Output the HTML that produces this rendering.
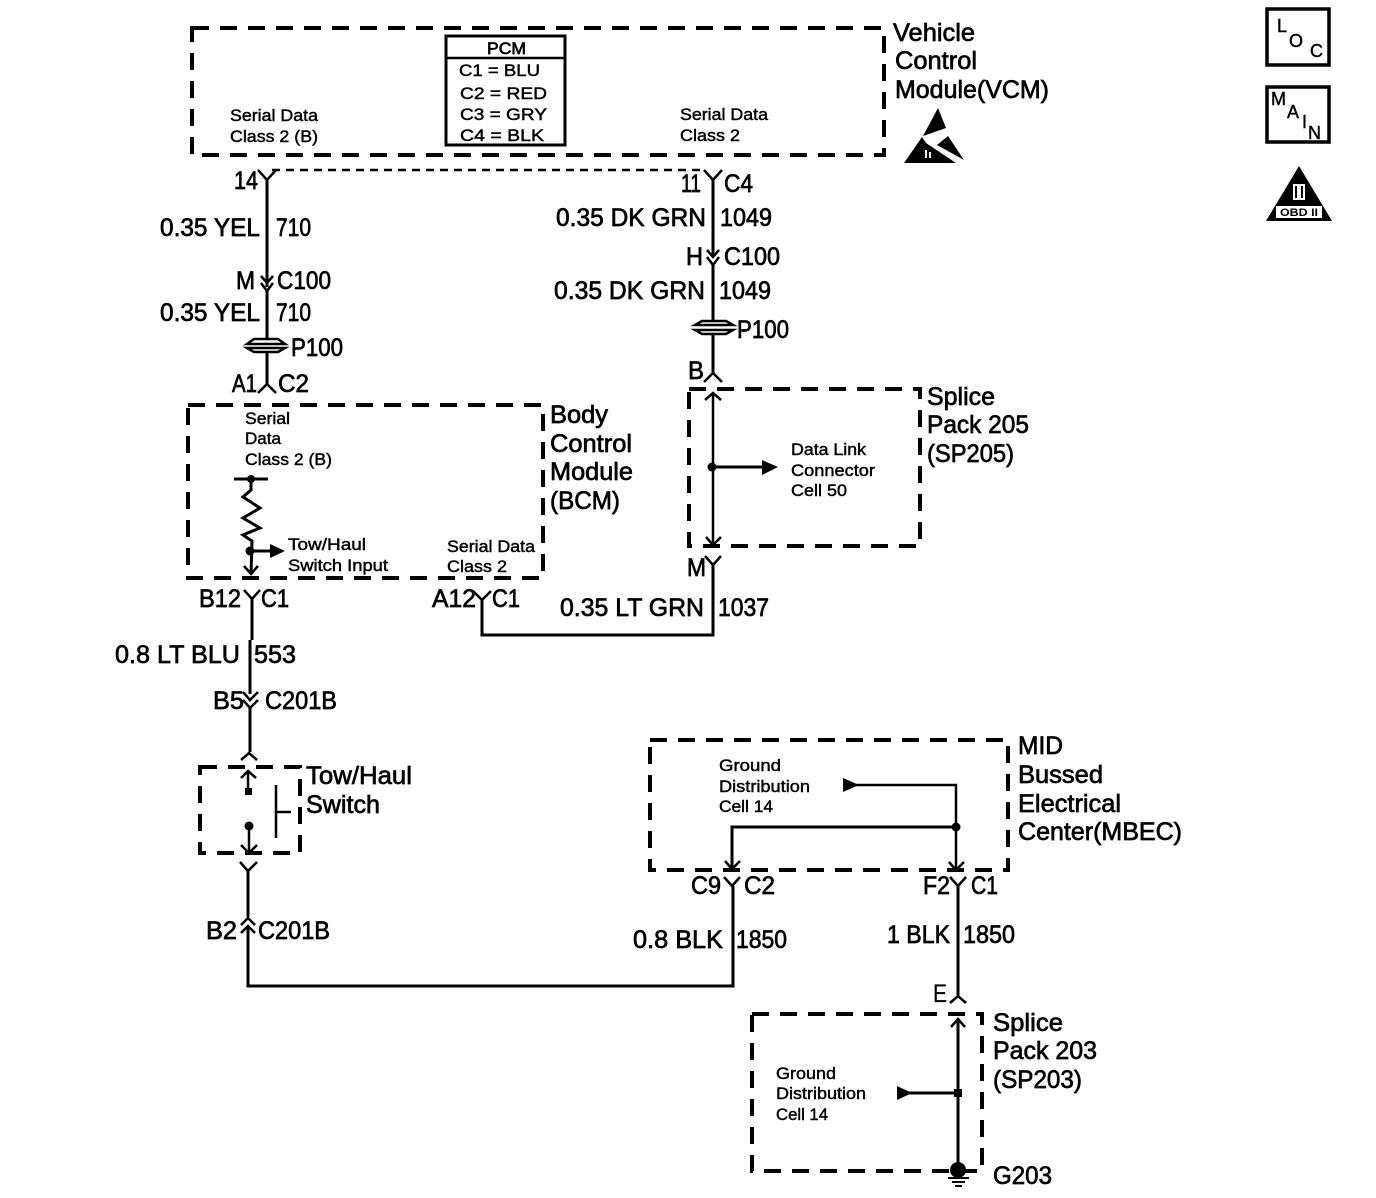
<!DOCTYPE html>
<html><head><meta charset="utf-8"><style>
html,body{margin:0;padding:0;background:#fff}
svg{display:block}
text{font-family:"Liberation Sans",sans-serif;fill:#000;stroke:#000}
.b{font-size:25px;stroke-width:.7}
.s{font-size:17px;stroke-width:.45}
.w{fill:none;stroke:#000;stroke-width:3}
.c{fill:none;stroke:#000;stroke-width:2.5}
.d{fill:none;stroke:#000;stroke-width:4;stroke-dasharray:17 11}
</style></head><body>
<svg width="1376" height="1198" viewBox="0 0 1376 1198" xmlns="http://www.w3.org/2000/svg">
<rect width="1376" height="1198" fill="#fff"/>
<!-- dashed boxes -->
<rect class="d" x="192" y="28" width="692" height="127"/>
<rect class="d" x="188" y="405" width="355" height="173"/>
<rect class="d" x="689" y="389" width="231" height="157"/>
<rect class="d" x="200" y="767" width="100" height="86"/>
<rect class="d" x="650" y="740" width="358" height="130"/>
<rect class="d" x="752" y="1014" width="230" height="157"/>
<line x1="272" y1="170" x2="706" y2="170" stroke="#000" stroke-width="2.5" stroke-dasharray="8 6"/>
<!-- PCM -->
<rect x="446" y="36" width="119" height="109" fill="#fff" stroke="#000" stroke-width="3"/>
<line x1="446" y1="58" x2="565" y2="58" stroke="#000" stroke-width="2.5"/>
<text class="s" x="487" y="54" textLength="39" lengthAdjust="spacingAndGlyphs" style="stroke-width:.7">PCM</text>
<text class="s" x="459" y="76" textLength="81" lengthAdjust="spacingAndGlyphs">C1 = BLU</text>
<text class="s" x="460" y="99" textLength="87" lengthAdjust="spacingAndGlyphs">C2 = RED</text>
<text class="s" x="460" y="120" textLength="87" lengthAdjust="spacingAndGlyphs">C3 = GRY</text>
<text class="s" x="460" y="141" textLength="84" lengthAdjust="spacingAndGlyphs">C4 = BLK</text>
<text class="s" x="230" y="121" textLength="88" lengthAdjust="spacingAndGlyphs">Serial Data</text>
<text class="s" x="230" y="142" textLength="88" lengthAdjust="spacingAndGlyphs">Class 2 (B)</text>
<text class="s" x="680" y="120" textLength="88" lengthAdjust="spacingAndGlyphs">Serial Data</text>
<text class="s" x="680" y="141" textLength="60" lengthAdjust="spacingAndGlyphs">Class 2</text>
<!-- VCM label -->
<text class="b" x="893" y="41" textLength="82" lengthAdjust="spacingAndGlyphs">Vehicle</text>
<text class="b" x="895" y="69" textLength="82" lengthAdjust="spacingAndGlyphs">Control</text>
<text class="b" x="895" y="98" textLength="154" lengthAdjust="spacingAndGlyphs">Module(VCM)</text>
<!-- ESD -->
<polygon points="938,108 946,128 923,136" fill="#000"/>
<polygon points="904,163 922,137 926,143 938,151 956,163" fill="#000"/>
<polygon points="937,145 948,136 964,160" fill="#000"/>
<rect x="925" y="150" width="2" height="8" fill="#fff"/>
<rect x="929" y="152" width="2" height="6" fill="#fff"/>
<!-- Icons -->
<rect x="1267" y="9" width="62" height="56" fill="none" stroke="#000" stroke-width="3.5"/>
<text class="s" x="1277" y="32" style="font-size:18px">L</text>
<text class="s" x="1289" y="47" style="font-size:18px">O</text>
<text class="s" x="1310" y="57" style="font-size:18px">C</text>
<rect x="1267" y="87" width="62" height="55" fill="none" stroke="#000" stroke-width="3.5"/>
<text class="s" x="1271" y="105" style="font-size:18px">M</text>
<text class="s" x="1287" y="118" style="font-size:18px">A</text>
<text class="s" x="1302" y="128" style="font-size:18px">I</text>
<text class="s" x="1308" y="139" style="font-size:18px">N</text>
<polygon points="1299,166 1332,221 1266,221" fill="#000"/>
<rect x="1293" y="184" width="12" height="16" fill="#fff"/>
<rect x="1295" y="186" width="2" height="12" fill="#000"/>
<rect x="1301" y="186" width="2" height="12" fill="#000"/>
<rect x="1276" y="206" width="46" height="12" fill="#fff"/>
<text x="1280" y="216" textLength="38" lengthAdjust="spacingAndGlyphs" style="font-size:11px;font-weight:bold;stroke:none">OBD II</text>
<!-- Left wire top -->
<polyline class="c" points="258,170 267,180 276,170"/>
<line class="w" x1="267" y1="180" x2="267" y2="287"/>
<polyline class="c" points="261,276 267,283 273,276"/>
<polyline class="c" points="261,283 267,291 273,283"/>
<line class="w" x1="267" y1="290" x2="267" y2="338"/>
<g fill="none" stroke="#000" stroke-width="2.5">
<polygon points="247,344 254,339 278,339 285,344"/>
<polygon points="247,348 285,348 278,352 254,352"/>
</g>
<line class="w" x1="267" y1="352" x2="267" y2="385"/>
<polyline class="c" points="258,393 267,384 276,393"/>
<text class="b" x="234" y="189" textLength="24" lengthAdjust="spacingAndGlyphs">14</text>
<text class="b" x="160" y="236" textLength="100" lengthAdjust="spacingAndGlyphs">0.35 YEL</text>
<text class="b" x="276" y="236" textLength="35" lengthAdjust="spacingAndGlyphs">710</text>
<text class="b" x="236" y="289" textLength="19" lengthAdjust="spacingAndGlyphs">M</text>
<text class="b" x="277" y="289" textLength="54" lengthAdjust="spacingAndGlyphs">C100</text>
<text class="b" x="160" y="321" textLength="100" lengthAdjust="spacingAndGlyphs">0.35 YEL</text>
<text class="b" x="276" y="321" textLength="35" lengthAdjust="spacingAndGlyphs">710</text>
<text class="b" x="291" y="356" textLength="52" lengthAdjust="spacingAndGlyphs">P100</text>
<text class="b" x="232" y="392" textLength="25" lengthAdjust="spacingAndGlyphs">A1</text>
<text class="b" x="278" y="392" textLength="31" lengthAdjust="spacingAndGlyphs">C2</text>
<!-- Right wire top -->
<polyline class="c" points="704,170 713,180 722,170"/>
<line class="w" x1="713" y1="180" x2="713" y2="256"/>
<polyline class="c" points="707,250 713,257 719,250"/>
<polyline class="c" points="707,257 713,265 719,257"/>
<line class="w" x1="713" y1="264" x2="713" y2="320"/>
<g fill="none" stroke="#000" stroke-width="2.5">
<polygon points="695,325 702,321 726,321 733,325"/>
<polygon points="695,330 733,330 726,334 702,334"/>
</g>
<line class="w" x1="713" y1="334" x2="713" y2="375"/>
<polyline class="c" points="704,382 713,373 722,382"/>
<text class="b" x="681" y="192" textLength="20" lengthAdjust="spacingAndGlyphs">11</text>
<text class="b" x="724" y="192" textLength="29" lengthAdjust="spacingAndGlyphs">C4</text>
<text class="b" x="556" y="226" textLength="150" lengthAdjust="spacingAndGlyphs">0.35 DK GRN</text>
<text class="b" x="720" y="226" textLength="52" lengthAdjust="spacingAndGlyphs">1049</text>
<text class="b" x="686" y="265" textLength="17" lengthAdjust="spacingAndGlyphs">H</text>
<text class="b" x="724" y="265" textLength="56" lengthAdjust="spacingAndGlyphs">C100</text>
<text class="b" x="554" y="299" textLength="151" lengthAdjust="spacingAndGlyphs">0.35 DK GRN</text>
<text class="b" x="719" y="299" textLength="52" lengthAdjust="spacingAndGlyphs">1049</text>
<text class="b" x="737" y="338" textLength="52" lengthAdjust="spacingAndGlyphs">P100</text>
<text class="b" x="688" y="379" textLength="16" lengthAdjust="spacingAndGlyphs">B</text>
<!-- SP205 -->
<polyline class="c" points="705,400 713,393 721,400"/>
<line class="w" x1="713" y1="393" x2="713" y2="546" style="stroke-width:2.5"/>
<circle cx="712" cy="467" r="4.5" fill="#000"/>
<line class="w" x1="712" y1="467" x2="764" y2="467"/>
<polygon points="762,460 778,467 762,475" fill="#000"/>
<polyline class="c" points="706,537 713,545 721,537"/>
<polyline class="c" points="705,556 713,565 721,556"/>
<text class="s" x="791" y="455" textLength="75" lengthAdjust="spacingAndGlyphs">Data Link</text>
<text class="s" x="791" y="476" textLength="84" lengthAdjust="spacingAndGlyphs">Connector</text>
<text class="s" x="791" y="496" textLength="56" lengthAdjust="spacingAndGlyphs">Cell 50</text>
<text class="b" x="927" y="405" textLength="68" lengthAdjust="spacingAndGlyphs">Splice</text>
<text class="b" x="927" y="433" textLength="102" lengthAdjust="spacingAndGlyphs">Pack 205</text>
<text class="b" x="927" y="462" textLength="87" lengthAdjust="spacingAndGlyphs">(SP205)</text>
<text class="b" x="687" y="576" textLength="19" lengthAdjust="spacingAndGlyphs">M</text>
<polyline class="w" points="713,565 713,635 482,635 482,600"/>
<polyline class="c" points="473,591 482,600 491,591"/>
<text class="b" x="432" y="607" textLength="44" lengthAdjust="spacingAndGlyphs">A12</text>
<text class="b" x="492" y="607" textLength="28" lengthAdjust="spacingAndGlyphs">C1</text>
<text class="b" x="560" y="616" textLength="144" lengthAdjust="spacingAndGlyphs">0.35 LT GRN</text>
<text class="b" x="718" y="616" textLength="51" lengthAdjust="spacingAndGlyphs">1037</text>
<!-- BCM -->
<text class="b" x="550" y="423" textLength="58" lengthAdjust="spacingAndGlyphs">Body</text>
<text class="b" x="550" y="452" textLength="82" lengthAdjust="spacingAndGlyphs">Control</text>
<text class="b" x="550" y="480" textLength="83" lengthAdjust="spacingAndGlyphs">Module</text>
<text class="b" x="550" y="509" textLength="70" lengthAdjust="spacingAndGlyphs">(BCM)</text>
<text class="s" x="245" y="424" textLength="45" lengthAdjust="spacingAndGlyphs">Serial</text>
<text class="s" x="245" y="444" textLength="36" lengthAdjust="spacingAndGlyphs">Data</text>
<text class="s" x="245" y="465" textLength="87" lengthAdjust="spacingAndGlyphs">Class 2 (B)</text>
<line class="w" x1="234" y1="479" x2="268" y2="479"/>
<circle cx="251" cy="479" r="4" fill="#000"/>
<polyline class="w" points="251,479 251,490 243,497 260,508 243,518 260,528 243,535 252,541 251,574"/>
<circle cx="250" cy="551" r="4.5" fill="#000"/>
<line class="w" x1="250" y1="551" x2="272" y2="551"/>
<polygon points="270,544 285,551 270,558" fill="#000"/>
<polyline class="c" points="244,566 251,574 258,566"/>
<text class="s" x="288" y="550" textLength="78" lengthAdjust="spacingAndGlyphs">Tow/Haul</text>
<text class="s" x="288" y="571" textLength="100" lengthAdjust="spacingAndGlyphs">Switch Input</text>
<text class="s" x="447" y="552" textLength="88" lengthAdjust="spacingAndGlyphs">Serial Data</text>
<text class="s" x="447" y="572" textLength="60" lengthAdjust="spacingAndGlyphs">Class 2</text>
<!-- Lower left wire -->
<polyline class="c" points="244,590 252,599 260,590"/>
<line class="w" x1="252" y1="599" x2="252" y2="640"/>
<line class="w" x1="250" y1="640" x2="250" y2="694"/>
<polyline class="c" points="243,692 250,700 258,692"/>
<polyline class="c" points="243,700 250,708 258,700"/>
<line class="w" x1="250" y1="707" x2="250" y2="752"/>
<polyline class="c" points="241,760 249,753 257,760"/>
<text class="b" x="199" y="607" textLength="42" lengthAdjust="spacingAndGlyphs">B12</text>
<text class="b" x="261" y="607" textLength="28" lengthAdjust="spacingAndGlyphs">C1</text>
<text class="b" x="115" y="663" textLength="125" lengthAdjust="spacingAndGlyphs">0.8 LT BLU</text>
<text class="b" x="254" y="663" textLength="42" lengthAdjust="spacingAndGlyphs">553</text>
<text class="b" x="213" y="709" textLength="31" lengthAdjust="spacingAndGlyphs">B5</text>
<text class="b" x="265" y="709" textLength="72" lengthAdjust="spacingAndGlyphs">C201B</text>
<!-- Tow/Haul switch -->
<polyline class="c" points="241,778 248,771 256,778"/>
<line class="c" x1="248" y1="771" x2="248" y2="790"/>
<rect x="245" y="788" width="7" height="7" fill="#000"/>
<circle cx="249" cy="826" r="4.5" fill="#000"/>
<line class="c" x1="249" y1="826" x2="249" y2="853"/>
<polyline class="c" points="241,845 249,853 257,845"/>
<line class="c" x1="276" y1="785" x2="276" y2="838"/>
<line class="c" x1="276" y1="812" x2="291" y2="812"/>
<text class="b" x="306" y="784" textLength="106" lengthAdjust="spacingAndGlyphs">Tow/Haul</text>
<text class="b" x="306" y="813" textLength="74" lengthAdjust="spacingAndGlyphs">Switch</text>
<polyline class="c" points="240,862 248,871 257,862"/>
<line class="w" x1="248" y1="871" x2="248" y2="917"/>
<polyline class="c" points="241,925 248,918 255,925"/>
<polyline class="c" points="241,933 248,926 255,933"/>
<polyline class="w" points="248,926 248,986 733,986 733,886"/>
<text class="b" x="206" y="939" textLength="31" lengthAdjust="spacingAndGlyphs">B2</text>
<text class="b" x="258" y="939" textLength="72" lengthAdjust="spacingAndGlyphs">C201B</text>
<text class="b" x="633" y="948" textLength="90" lengthAdjust="spacingAndGlyphs">0.8 BLK</text>
<text class="b" x="736" y="948" textLength="51" lengthAdjust="spacingAndGlyphs">1850</text>
<!-- MBEC -->
<text class="b" x="1018" y="754" textLength="45" lengthAdjust="spacingAndGlyphs">MID</text>
<text class="b" x="1018" y="783" textLength="85" lengthAdjust="spacingAndGlyphs">Bussed</text>
<text class="b" x="1018" y="812" textLength="103" lengthAdjust="spacingAndGlyphs">Electrical</text>
<text class="b" x="1018" y="840" textLength="164" lengthAdjust="spacingAndGlyphs">Center(MBEC)</text>
<text class="s" x="719" y="771" textLength="62" lengthAdjust="spacingAndGlyphs">Ground</text>
<text class="s" x="719" y="792" textLength="91" lengthAdjust="spacingAndGlyphs">Distribution</text>
<text class="s" x="719" y="812" textLength="54" lengthAdjust="spacingAndGlyphs">Cell 14</text>
<polygon points="843,778 859,785 843,792" fill="#000"/>
<polyline class="c" points="856,785 956,785 956,870"/>
<circle cx="956" cy="827" r="4.5" fill="#000"/>
<polyline class="w" points="956,827 732,827 732,868"/>
<polyline class="c" points="725,861 732,869 740,861"/>
<polyline class="c" points="949,862 956,870 964,862"/>
<polyline class="c" points="724,877 732,886 740,877"/>
<polyline class="c" points="950,877 958,886 966,877"/>
<line class="w" x1="958" y1="886" x2="958" y2="998"/>
<polyline class="c" points="950,1003 958,996 966,1003"/>
<text class="b" x="691" y="894" textLength="30" lengthAdjust="spacingAndGlyphs">C9</text>
<text class="b" x="744" y="894" textLength="31" lengthAdjust="spacingAndGlyphs">C2</text>
<text class="b" x="923" y="894" textLength="27" lengthAdjust="spacingAndGlyphs">F2</text>
<text class="b" x="971" y="894" textLength="27" lengthAdjust="spacingAndGlyphs">C1</text>
<text class="b" x="887" y="943" textLength="63" lengthAdjust="spacingAndGlyphs">1 BLK</text>
<text class="b" x="963" y="943" textLength="52" lengthAdjust="spacingAndGlyphs">1850</text>
<text class="b" x="933" y="1002" textLength="14" lengthAdjust="spacingAndGlyphs" style="stroke-width:.2">E</text>
<!-- SP203 -->
<polyline class="c" points="951,1027 958,1019 965,1027"/>
<line class="w" x1="958" y1="1019" x2="958" y2="1165"/>
<rect x="954" y="1089" width="8" height="8" fill="#000"/>
<line class="w" x1="908" y1="1093" x2="958" y2="1093"/>
<polygon points="897,1086 912,1093 897,1100" fill="#000"/>
<circle cx="958" cy="1170" r="8" fill="#000"/>
<line x1="948" y1="1178" x2="969" y2="1178" stroke="#000" stroke-width="2"/>
<line x1="952" y1="1182" x2="965" y2="1182" stroke="#000" stroke-width="2"/>
<line x1="955" y1="1186" x2="962" y2="1186" stroke="#000" stroke-width="2"/>
<text class="s" x="776" y="1079" textLength="60" lengthAdjust="spacingAndGlyphs">Ground</text>
<text class="s" x="776" y="1099" textLength="90" lengthAdjust="spacingAndGlyphs">Distribution</text>
<text class="s" x="776" y="1120" textLength="52" lengthAdjust="spacingAndGlyphs">Cell 14</text>
<text class="b" x="993" y="1031" textLength="70" lengthAdjust="spacingAndGlyphs">Splice</text>
<text class="b" x="993" y="1059" textLength="104" lengthAdjust="spacingAndGlyphs">Pack 203</text>
<text class="b" x="993" y="1088" textLength="89" lengthAdjust="spacingAndGlyphs">(SP203)</text>
<text class="b" x="993" y="1184" textLength="59" lengthAdjust="spacingAndGlyphs">G203</text>
</svg>
</body></html>
